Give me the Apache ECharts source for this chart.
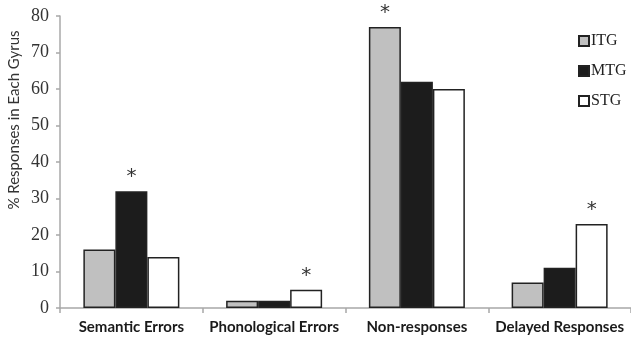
<!DOCTYPE html>
<html>
<head>
<meta charset="utf-8">
<script src="https://cdn.jsdelivr.net/npm/echarts@6/dist/echarts.min.js"></script>
<style>html,body{margin:0;padding:0;background:#fff}#c{width:631px;height:345px}</style>
</head>
<body>
<div id="c"></div>
<script>
var categories = ['Semantic Errors', 'Phonological Errors', 'Non-responses', 'Delayed Responses'];
var seriesNames = ['ITG', 'MTG', 'STG'];
var itgValues = [16, 2, 77, 7];
var mtgValues = [32, 2, 62, 11];
var stgValues = [14, 5, 60, 23];
// significance markers: for each category, which series gets "*"
var sigSeries = ['MTG', 'STG', 'ITG', 'STG'];
var yTicks = [0, 10, 20, 30, 40, 50, 60, 70, 80];

var colors = {ITG: '#c0c0c0', MTG: '#1c1c1c', STG: '#ffffff'};
var valuesByName = {ITG: itgValues, MTG: mtgValues, STG: stgValues};

function makeData(name) {
  return valuesByName[name].map(function (v, i) {
    var item = {value: v};
    if (sigSeries[i] === name) {
      item.label = {show: true, position: 'top', distance: 4, formatter: '*',
        fontSize: 20, color: '#333', fontFamily: 'DejaVu Sans'};
    }
    return item;
  });
}

var chart = echarts.init(document.getElementById('c'), null, {renderer: 'canvas'});
chart.setOption({
  animation: false,
  backgroundColor: '#fff',
  grid: {left: 60, top: 16, width: 574, height: 292, containLabel: false},
  legend: {
    orient: 'vertical', left: 573, top: 28, itemWidth: 10, itemHeight: 10, itemGap: 14,
    icon: 'rect',
    data: seriesNames,
    textStyle: {fontFamily: 'Liberation Serif', fontSize: 16, color: '#222', padding: [0, 0, 0, -3]}
  },
  xAxis: {
    type: 'category', data: categories,
    axisLine: {lineStyle: {color: '#a8a8a8', width: 1.5}},
    axisTick: {show: true, length: 5, lineStyle: {color: '#a8a8a8', width: 1.5}},
    axisLabel: {interval: 0, hideOverlap: false, fontFamily: 'Lato', fontWeight: 'bold', fontSize: 15, color: '#1a1a1a', margin: 12}
  },
  yAxis: {
    type: 'value', min: yTicks[0], max: yTicks[yTicks.length - 1], interval: 10,
    splitLine: {show: false},
    axisLine: {show: true, lineStyle: {color: '#a8a8a8', width: 1.5}},
    axisTick: {show: true, length: 4, lineStyle: {color: '#a8a8a8', width: 1.5}},
    axisLabel: {fontFamily: 'Liberation Serif', fontSize: 18, color: '#333', margin: 11}
  },
  graphic: [{
    type: 'text', x: 14, y: 120, rotation: Math.PI / 2,
    style: {text: '% Responses in Each Gyrus', fontFamily: 'Lato', fontSize: 15, fill: '#333',
      align: 'center', verticalAlign: 'middle'}
  }],
  series: seriesNames.map(function (name) {
    return {
      name: name, type: 'bar', barWidth: 32, barGap: '0%',
      itemStyle: {color: colors[name], borderColor: '#222', borderWidth: 1.5},
      data: makeData(name)
    };
  })
});
</script>
</body>
</html>
